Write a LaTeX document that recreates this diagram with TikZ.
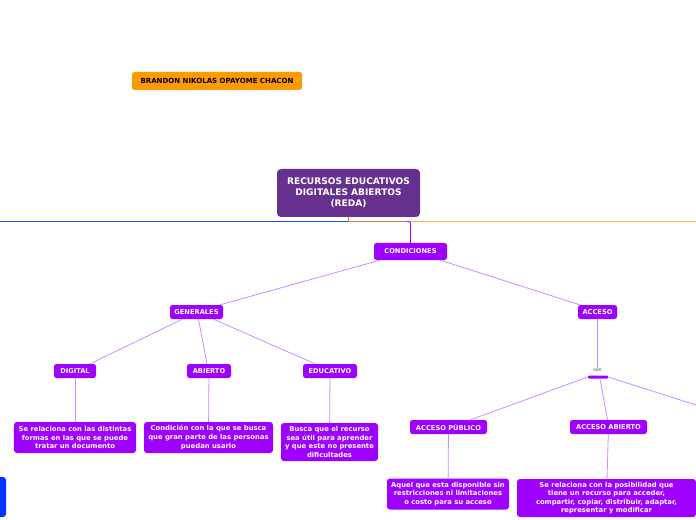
\documentclass[tikz,border=0pt]{standalone}
\usepackage{fontspec}
\setmainfont{DejaVu Sans}
\usepackage{xcolor}
\definecolor{authororange}{HTML}{FF9A00}
\definecolor{redapurple}{HTML}{66308F}
\definecolor{vividpurple}{HTML}{9D00FF}
\definecolor{linkpurple}{HTML}{CC8CFF}
\definecolor{mainblue}{HTML}{1F4FD6}
\definecolor{nodeblue}{HTML}{0036FF}
\definecolor{paleorange}{HTML}{FFB347}
\definecolor{redorange}{HTML}{E8743B}

\begin{document}
\begin{tikzpicture}[x=1bp, y=-1bp,
    topic/.style={fill=vividpurple, rounded corners=2.5bp, text=white, inner sep=0pt,
        font=\bfseries\fontsize{6.7}{7}\selectfont, minimum height=14bp},
    descbox/.style={fill=vividpurple, rounded corners=3bp, text=white, inner sep=0pt,
        align=center, font=\bfseries\fontsize{6.85}{8.6}\selectfont},
    link/.style={draw=linkpurple, line width=0.8bp},
]
    \useasboundingbox (0,0) rectangle (696,520);
    % author
    \node[fill=authororange, rounded corners=2.5bp, inner sep=0pt, minimum width=170bp, minimum height=18bp,
        font=\bfseries\fontsize{7.05}{7}\selectfont] (author) at (217,81) {BRANDON NIKOLAS OPAYOME CHACON};
    % central topic
    \node[fill=redapurple, rounded corners=4bp, text=white, inner sep=0pt, minimum width=143bp, minimum height=48bp,
        align=center, font=\bfseries\fontsize{9.1}{11}\selectfont] (reda) at (348.5,193)
        {RECURSOS EDUCATIVOS\\DIGITALES ABIERTOS\\(REDA)};
    % main branches
    \coordinate (hub) at (348,221.5);
    \coordinate (leftend) at (0,221.5);
    \coordinate (rightend) at (696,221.5);
    \coordinate (turn) at (409,221.5);
    \node[fill=nodeblue, rounded corners=3bp, minimum width=12bp, minimum height=40bp, inner sep=0pt] (bluenode) at (0,497) {};
    \draw[redorange, line width=1bp] (reda.south -| hub) -- (hub);
    \draw[mainblue, line width=1.3bp] (hub) -- (leftend);
    \draw[paleorange, line width=1.3bp] (hub) -- (rightend);
    \draw[redorange, line width=1.3bp] (hub) -- (turn);
    % condiciones
    \node[topic, minimum width=73bp, minimum height=17bp] (condiciones) at (410.5,251.5) {CONDICIONES};
    \draw[vividpurple, line width=0.9bp, rounded corners=2bp] (turn) -| (condiciones.north);
    \node[topic, minimum width=53bp] (generales) at (196.5,312) {GENERALES};
    \node[topic, minimum width=39bp] (acceso) at (597.5,312) {ACCESO};
    \draw[link] ([xshift=6bp]condiciones.south west) -- ([xshift=-3bp]generales.north east);
    \draw[link] ([xshift=-7bp]condiciones.south east) -- ([xshift=2bp]acceso.north west);
    % generales
    \node[topic, minimum width=42bp] (digital) at (75,371) {DIGITAL};
    \node[topic, minimum width=44bp] (abierto) at (209,371) {ABIERTO};
    \node[topic, minimum width=54bp] (educativo) at (330,371) {EDUCATIVO};
    \draw[link] ([xshift=-14bp]generales.south) -- ([xshift=15bp]digital.north);
    \draw[link] ([xshift=2bp]generales.south) -- ([xshift=-2bp]abierto.north);
    \draw[link] ([xshift=17bp]generales.south) -- ([xshift=-15bp]educativo.north);
    \node[descbox, minimum width=122bp, minimum height=31bp] (digitaldesc) at (75,437.5)
        {Se relaciona con las distintas\\formas en las que se puede\\tratar un documento};
    \node[descbox, minimum width=129bp, minimum height=31bp] (abiertodesc) at (208.5,437.5)
        {Condición con la que se busca\\que gran parte de las personas\\puedan usarlo};
    \node[descbox, minimum width=97bp, minimum height=38bp] (educativodesc) at (329.5,442)
        {Busca que el recurso\\sea útil para aprender\\y que este no presente\\dificultades};
    \draw[link] (digital) -- (digitaldesc);
    \draw[link] (abierto) -- (abiertodesc);
    \draw[link] (educativo) -- (educativodesc);
    % acceso
    \node[text=black!70, inner sep=0pt, font=\fontsize{4.8}{5}\selectfont] (son) at (597.5,370.5) {son};
    \node[fill=vividpurple, rounded corners=1bp, minimum width=20bp, minimum height=3bp, inner sep=0pt] (sonbar) at (598,377) {};
    \draw[link] (acceso) -- (son);
    \node[topic, minimum width=77bp] (accpublico) at (448.5,427) {ACCESO PÚBLICO};
    \node[topic, minimum width=77bp] (accabierto) at (608.5,427) {ACCESO ABIERTO};
    \coordinate (offright) at (696,405);
    \draw[link] (sonbar.west) -- ([xshift=22bp]accpublico.north);
    \draw[link] ([xshift=2bp]sonbar.south) -- ([xshift=-1bp]accabierto.north);
    \draw[link] (sonbar.east) -- (offright);
    \node[descbox, minimum width=122bp, minimum height=31bp] (publicodesc) at (448,494)
        {Aquel que esta disponible sin\\restricciones ni limitaciones\\o costo para su acceso};
    \node[descbox, minimum width=179bp, minimum height=38bp] (abiertoaccdesc) at (606.5,498)
        {Se relaciona con la posibilidad que\\tiene un recurso para acceder,\\compartir, copiar, distribuir, adaptar,\\representar y modificar};
    \draw[link] (accpublico) -- (publicodesc);
    \draw[link] (accabierto) -- (abiertoaccdesc);
\end{tikzpicture}
\end{document}
